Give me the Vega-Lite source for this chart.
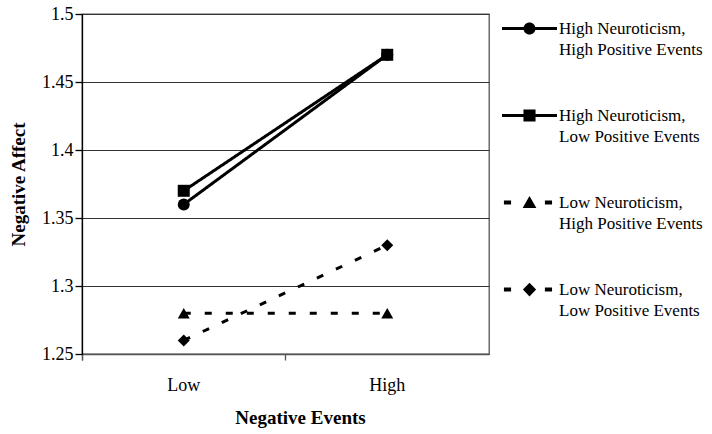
{
  "$schema": "https://vega.github.io/schema/vega-lite/v6.json",
  "width": 407,
  "height": 340,
  "autosize": {"type": "none"},
  "padding": {"left": 82, "top": 14, "right": 223, "bottom": 80},
  "background": "white",
  "config": {
    "font": "Liberation Serif",
    "view": {"stroke": "#555", "strokeWidth": 1.3},
    "style": {"guide-label": {"lineHeight": 21}},
    "axis": {
      "labelFont": "Liberation Serif",
      "titleFont": "Liberation Serif",
      "labelColor": "black",
      "titleColor": "black",
      "labelFontSize": 18,
      "titleFontSize": 19,
      "titleFontWeight": "bold"
    },
    "legend": {
      "orient": "none",
      "legendX": 420,
      "legendY": -13,
      "padding": 0,
      "symbolSize": 3025,
      "symbolOpacity": 1,
      "symbolFillColor": "black",
      "symbolStrokeWidth": 0,
      "labelFont": "Liberation Serif",
      "labelFontSize": 17,
      "labelColor": "black",
      "labelOffset": 2,
      "labelLimit": 300,
      "rowPadding": 30
    }
  },
  "data": {
    "values": [
      {"group": "High Neuroticism, High Positive Events", "neuroticism": "High", "events": "Low", "value": 1.36},
      {"group": "High Neuroticism, High Positive Events", "neuroticism": "High", "events": "High", "value": 1.47},
      {"group": "High Neuroticism, Low Positive Events", "neuroticism": "High", "events": "Low", "value": 1.37},
      {"group": "High Neuroticism, Low Positive Events", "neuroticism": "High", "events": "High", "value": 1.47},
      {"group": "Low Neuroticism, High Positive Events", "neuroticism": "Low", "events": "Low", "value": 1.28},
      {"group": "Low Neuroticism, High Positive Events", "neuroticism": "Low", "events": "High", "value": 1.28},
      {"group": "Low Neuroticism, Low Positive Events", "neuroticism": "Low", "events": "Low", "value": 1.26},
      {"group": "Low Neuroticism, Low Positive Events", "neuroticism": "Low", "events": "High", "value": 1.33}
    ]
  },
  "encoding": {
    "x": {
      "field": "events",
      "type": "nominal",
      "sort": ["Low", "High"],
      "scale": {"type": "band", "paddingInner": 0, "paddingOuter": 0},
      "axis": {
        "title": "Negative Events",
        "bandPosition": 0,
        "tickExtra": true,
        "tickSize": 6,
        "tickColor": "#555",
        "tickWidth": 1.3,
        "domainColor": "#555",
        "domainWidth": 1.3,
        "labelAngle": 0,
        "labelPadding": 16,
        "labelBaseline": "top",
        "titlePadding": 14,
        "titleX": 218,
        "grid": false
      }
    },
    "y": {
      "field": "value",
      "type": "quantitative",
      "scale": {"domain": [1.25, 1.5], "zero": false, "nice": false},
      "axis": {
        "title": "Negative Affect",
        "values": [1.25, 1.3, 1.35, 1.4, 1.45, 1.5],
        "format": "~g",
        "tickSize": 7,
        "tickColor": "black",
        "tickWidth": 1.3,
        "domainColor": "black",
        "domainWidth": 1.3,
        "labelPadding": 2,
        "titlePadding": 13,
        "grid": true,
        "gridColor": "#333",
        "gridWidth": 1.2
      }
    }
  },
  "resolve": {"scale": {"shape": "independent"}, "legend": {"shape": "independent"}},
  "layer": [
    {
      "mark": {"type": "point", "filled": true, "color": "black", "size": 144, "opacity": 0},
      "encoding": {
        "shape": {
          "field": "group",
          "type": "nominal",
          "scale": {
            "domain": [
              "High Neuroticism, High Positive Events",
              "High Neuroticism, Low Positive Events",
              "Low Neuroticism, High Positive Events",
              "Low Neuroticism, Low Positive Events"
            ],
            "range": [
              "M-1,-0.055H1V0.055H-1Z M-0.22,0A0.22,0.22 0 1,1 0.22,0A0.22,0.22 0 1,1 -0.22,0Z",
              "M-1,-0.055H1V0.055H-1Z M-0.22,-0.22H0.22V0.22H-0.22Z",
              "M-0.93,-0.07H-0.67V0.07H-0.93Z M0.56,-0.07H0.82V0.07H0.56Z M0,-0.24L0.25,0.2H-0.25Z",
              "M-0.93,-0.07H-0.67V0.07H-0.93Z M0.56,-0.07H0.82V0.07H0.56Z M0,-0.25L0.24,0L0,0.25L-0.24,0Z"
            ]
          },
          "legend": {
            "title": null,
            "labelExpr": "[split(datum.label, ', ')[0] + ',', split(datum.label, ', ')[1]]"
          }
        }
      }
    },
    {
      "mark": {"type": "line", "strokeWidth": 3, "color": "black", "strokeCap": "butt"},
      "encoding": {
        "detail": {"field": "group", "type": "nominal"},
        "strokeDash": {
          "field": "neuroticism",
          "type": "nominal",
          "scale": {"domain": ["High", "Low"], "range": [[1, 0], [7, 14]]},
          "legend": null
        }
      }
    },
    {
      "mark": {"type": "point", "filled": true, "color": "black", "size": 144, "opacity": 1},
      "encoding": {
        "shape": {
          "field": "group",
          "type": "nominal",
          "scale": {
            "domain": [
              "High Neuroticism, High Positive Events",
              "High Neuroticism, Low Positive Events",
              "Low Neuroticism, High Positive Events",
              "Low Neuroticism, Low Positive Events"
            ],
            "range": ["circle", "square", "triangle-up", "diamond"]
          },
          "legend": null
        }
      }
    }
  ]
}
